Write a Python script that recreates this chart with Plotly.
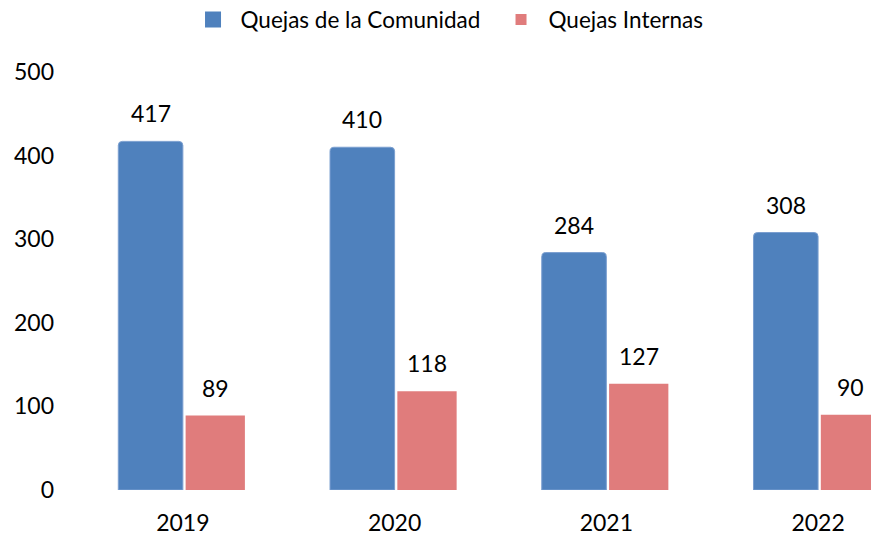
import plotly.graph_objects as go

years = ["2019", "2020", "2021", "2022"]
comunidad = [417, 410, 284, 308]
internas = [89, 118, 127, 90]

BLUE = "#4F81BD"
RED = "#E07C7C"
FONT = "Lato"

xs = list(range(len(years)))
bw, bo = 0.305, -0.305
rw, ro = 0.28, 0.013

fig = go.Figure()
fig.add_trace(go.Bar(
    x=xs, y=comunidad, name="Quejas de la Comunidad", showlegend=False,
    width=bw, offset=bo,
    marker=dict(color=BLUE, cornerradius=4, line=dict(width=1, color="#7B9FD0")),
))
fig.add_trace(go.Bar(
    x=xs, y=internas, name="Quejas Internas", showlegend=False,
    width=rw, offset=ro,
    marker=dict(color=RED, line=dict(width=0)),
))
# legend proxies (no data)
fig.add_trace(go.Scatter(x=[None], y=[None], mode="markers", name="Quejas de la Comunidad",
                         marker=dict(symbol="square", size=16, color=BLUE)))
fig.add_trace(go.Scatter(x=[None], y=[None], mode="markers", name="Quejas Internas",
                         marker=dict(symbol="square", size=11, color=RED)))

annotations = []
for i, v in enumerate(comunidad):
    annotations.append(dict(x=i + bo + bw / 2, y=v, text=str(v), showarrow=False,
                            yanchor="bottom", yshift=12,
                            font=dict(family=FONT, size=23, color="#000")))
for i, v in enumerate(internas):
    annotations.append(dict(x=i + ro + rw / 2, y=v, text=str(v), showarrow=False,
                            yanchor="bottom", yshift=12,
                            font=dict(family=FONT, size=23, color="#000")))

fig.update_layout(
    width=871, height=536,
    margin=dict(l=77, r=0, t=72, b=46),
    paper_bgcolor="white", plot_bgcolor="white",
    font=dict(family=FONT, size=23, color="#000"),
    barmode="group",
    showlegend=True,
    legend=dict(orientation="h", xref="container", yref="container",
                x=0.213, xanchor="left", y=0.963, yanchor="middle",
                font=dict(family=FONT, size=22.5, color="#000"),
                itemwidth=45, itemsizing="trace", traceorder="normal",
                entrywidth=248),
    xaxis=dict(range=[-0.5, 3.25], tickmode="array", tickvals=xs, ticktext=years,
               showgrid=False, zeroline=False, showline=False,
               ticks="", ticklabelstandoff=17),
    yaxis=dict(range=[0, 500], tickvals=[0, 100, 200, 300, 400, 500],
               showgrid=False, zeroline=False, showline=False,
               ticks="", ticklabelstandoff=22),
    annotations=annotations,
)

fig.write_html("out.html", config={"displayModeBar": False},
               post_script="document.body.style.margin='0';document.body.style.overflow='hidden';")
